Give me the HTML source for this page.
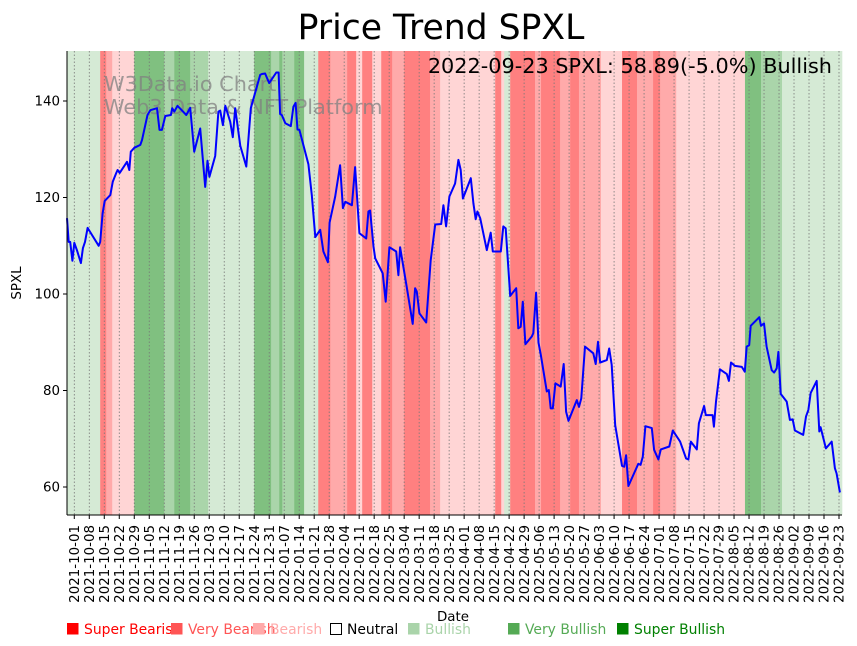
<!DOCTYPE html>
<html><head><meta charset="utf-8">
<style>
body{margin:0;background:#fff;}
svg{display:block;font-family:"DejaVu Sans","Liberation Sans",sans-serif;}
</style></head>
<body>
<svg id="chart" width="857" height="646" viewBox="0 0 857 646" xmlns="http://www.w3.org/2000/svg">
<text x="441" y="39" font-size="34.6" text-anchor="middle">Price Trend SPXL</text>
<g id="bands"></g>
<g id="grid"></g>
<g fill="#808080" fill-opacity="0.75" font-size="20.8">
<text x="104" y="91">W3Data.io Chart</text>
<text x="104" y="114">Web3 Data &amp; NFT Platform</text>
</g>
<path id="line" fill="none" stroke="#0000ff" stroke-width="2" stroke-linejoin="round"/>
<text x="832" y="73" font-size="20.8" text-anchor="end">2022-09-23 SPXL: 58.89(-5.0%) Bullish</text>
<g id="yaxis"></g>
<g id="xaxis"></g>
<line x1="67" y1="51" x2="67" y2="515" stroke="#000" stroke-width="1"/>
<line x1="67" y1="515" x2="842" y2="515" stroke="#000" stroke-width="1"/>
<text transform="translate(21,283) rotate(-90)" font-size="13.4" text-anchor="middle">SPXL</text>
<text x="453" y="621" font-size="13.4" text-anchor="middle">Date</text>
<g id="legend" font-size="13.9"></g>
</svg>
<script>
const days=[-3.4,-2.6,-1.9,-0.9,0,1.2,3.1,4.0,5.0,6.2,11.4,12.1,13.2,14.2,16.8,18.0,19.6,20.2,21.2,24.6,25.7,26.4,28,30.8,31.6,34.2,35.5,38.6,39.8,40.9,42.5,45.1,45.7,46.7,48.2,52.3,54.1,56.0,58.8,61.1,62.2,63.1,65.8,67.3,68.1,69.4,70.5,72.8,74.0,75.1,77.5,80.3,82.4,86.8,87.6,89.1,91.0,94.3,95.4,96.1,96.9,98.5,101.1,102.3,103.3,104.2,105.1,109.3,110.9,112.5,114.8,116.3,118.4,119.2,121.8,124.1,125.4,126.5,129.6,131.1,133.1,136.3,137.3,138.1,139.7,140.5,144.0,145.4,147.1,150.3,151.3,152.1,155.2,158.0,159.1,159.9,161.1,164.3,166.4,168.5,171.3,172.3,173.6,175.1,177.8,179.3,180.4,181.4,185.1,186.3,187.4,188.2,189.5,192.6,194.4,195.4,199.1,200.3,201.4,203.5,206.3,207.3,208.4,209.4,210.6,213.6,214.3,215.6,216.7,217.8,220.6,221.5,222.4,223.4,224.6,227.1,228.5,229.6,230.7,234.6,235.6,236.7,238.4,242.3,243.4,244.5,245.5,248.6,249.7,250.9,252.5,255.7,256.7,257.6,258.7,263.3,264.4,265.4,266.6,269.6,270.7,272.7,273.8,277.8,279.4,282.8,285.6,286.7,287.8,290.6,291.6,294.0,294.8,298.0,298.6,299.6,301.4,304.6,305.6,306.6,308.4,311.6,313.0,313.9,315.1,315.8,319.8,320.6,322.0,323.2,325.6,326.7,327.9,328.7,329.8,332.6,334.1,335.4,336.4,340.3,341.6,342.7,343.8,346.6,347.8,348.4,350.9,353.6,355.1,355.9,357.4];
const prices=[115.7,110.8,110.8,106.9,110.6,109.1,106.4,109.5,110.8,113.7,110.0,110.8,116.7,119.3,120.5,123.3,125.1,125.7,125.1,127.4,125.7,129.5,130.3,130.9,131.9,137.1,138.1,138.5,134.0,134.0,136.9,137.1,138.5,137.8,139.0,137.1,138.6,129.5,134.3,122.2,127.6,124.3,128.6,137.8,138.0,135.0,139.0,135.7,132.5,138.5,130.7,126.4,138.5,145.4,145.6,145.7,143.7,145.9,145.9,137.3,137.1,135.4,134.8,138.8,139.6,134.1,134.0,126.9,120.5,111.8,113.3,108.8,106.6,114.8,120.2,126.7,117.8,119.1,118.4,126.3,112.6,111.5,117.1,117.3,109.8,107.4,104.3,98.4,109.7,108.8,103.9,109.7,101.5,93.8,101.2,100.5,96.0,94.1,107.0,114.4,114.5,118.4,114.0,120.2,122.9,127.8,125.7,119.8,124.0,118.8,115.5,117.1,115.7,109.1,112.7,108.8,108.8,114.0,113.6,99.6,101.2,92.9,93.2,98.4,89.6,91.2,91.9,100.3,89.9,87.4,79.8,80.1,76.3,76.3,81.5,80.8,85.5,75.6,73.7,78.0,76.6,78.4,89.1,87.7,85.5,90.1,85.8,86.3,88.7,85.3,72.8,64.4,64.2,66.6,60.2,64.8,64.6,66.3,72.6,72.2,67.7,65.7,67.8,68.4,71.7,69.4,65.9,65.7,69.4,67.8,73.2,76.8,74.9,74.9,72.5,77.7,84.4,83.4,82.0,85.8,85.1,84.9,83.9,89.1,89.4,93.4,95.2,93.4,93.9,89.1,84.2,83.7,84.6,88.0,79.3,77.7,73.9,74.0,71.7,70.8,74.6,76.0,79.5,82.0,71.5,72.4,68.0,69.4,63.9,62.8,58.89];
const bandStarts=[-3.4,12.1,14.9,17.7,28,42,46.7,54.1,62.5,84,91.9,95.7,97.1,102.7,107.3,113.9,119.5,127.4,131.6,134.4,139.1,143.3,148.4,154,166.1,170.8,196.5,199.3,200.7,203.5,215.1,217.9,226.8,231.5,235.6,245.9,255.7,262.7,270.2,273.5,281,313.1,320.6,330.4];
const bandLevels=[1,-3,-2,-1,3,2,3,2,1,3,2,3,2,3,1,-3,-2,-3,-1,-3,-1,-3,-2,-3,-2,-1,-3,-1,1,-3,-2,-3,-2,-3,-2,-1,-3,-2,-3,-2,-1,3,2,1];
const bandEnd=358.4;
const yTicks=[60,80,100,120,140];
const legendLabels=["Super Bearish","Very Bearish","Bearish","Neutral","Bullish","Very Bullish","Super Bullish"];

const NS="http://www.w3.org/2000/svg";
const X0=67,X1=842,D0=-3.4,D1=358.4;
const xs=d=>X0+(d-D0)*(X1-X0)/(D1-D0);
const ys=p=>487-(p-60)*(487-101)/80;
const TOP=51,BOT=515;
const bandColor={"-3":"#ff8080","-2":"#ffaaaa","-1":"#ffd5d5","0":"#ffffff","1":"#d5ead5","2":"#aad5aa","3":"#80c080"};
function mk(tag,attrs,parent){const e=document.createElementNS(NS,tag);for(const k in attrs)e.setAttribute(k,attrs[k]);parent.appendChild(e);return e;}

const gb=document.getElementById('bands');
bandStarts.forEach((s,i)=>{
  const e=i<bandStarts.length-1?bandStarts[i+1]:bandEnd;
  const r=mk('rect',{x:xs(s),y:TOP,width:xs(e)-xs(s)+0.3,height:BOT-TOP,fill:bandColor[bandLevels[i]]},gb);
  
  
});

const base=Date.UTC(2021,9,1);
const gg=document.getElementById('grid'),gx=document.getElementById('xaxis');
for(let d=0;d<=357;d+=7){
  const x=xs(d);
  const gl=mk('line',{x1:x,y1:TOP,x2:x,y2:BOT,stroke:'#777',"stroke-width":0.8,"stroke-dasharray":"1.5,2"},gg);
  
  
  const t=mk('line',{x1:x,y1:BOT,x2:x,y2:BOT+4,stroke:'#000'},gx);
  
  
  const lab=new Date(base+d*86400000).toISOString().slice(0,10);
  const tx=mk('text',{transform:`translate(${x+4.7},${BOT+10}) rotate(-90)`,"font-size":13.4,"text-anchor":"end"},gx);
  tx.textContent=lab;
  
  
}
const gy=document.getElementById('yaxis');
yTicks.forEach(v=>{
  const y=ys(v);
  const t=mk('line',{x1:X0-4,y1:y,x2:X0,y2:y,stroke:'#000'},gy);
  
  
  const tx=mk('text',{x:X0-7,y:y+4.5,"font-size":13.4,"text-anchor":"end"},gy);
  tx.textContent=v;
  
  
});

document.getElementById('line').setAttribute('d',days.map((d,i)=>(i?'L':'M')+xs(d).toFixed(1)+','+ys(prices[i]).toFixed(1)).join(''));

const legColors=["#ff0000","#ff5555","#ffaaaa","#000000","#aad4aa","#55aa55","#008000"];
const legX=[67,171,253,330,408,508,617];
const gl=document.getElementById('legend');
legendLabels.forEach((l,i)=>{
  const g=mk('g',{},gl);
  
  
  if(i===3) mk('rect',{x:legX[i]+0.5,y:623.5,width:11,height:11,fill:'none',stroke:'#000'},g);
  else mk('rect',{x:legX[i],y:623,width:11.5,height:11.5,fill:legColors[i]},g);
  const t=mk('text',{x:legX[i]+17,y:634,fill:legColors[i]},g);
  t.textContent=l;
});
</script>
</body></html>
